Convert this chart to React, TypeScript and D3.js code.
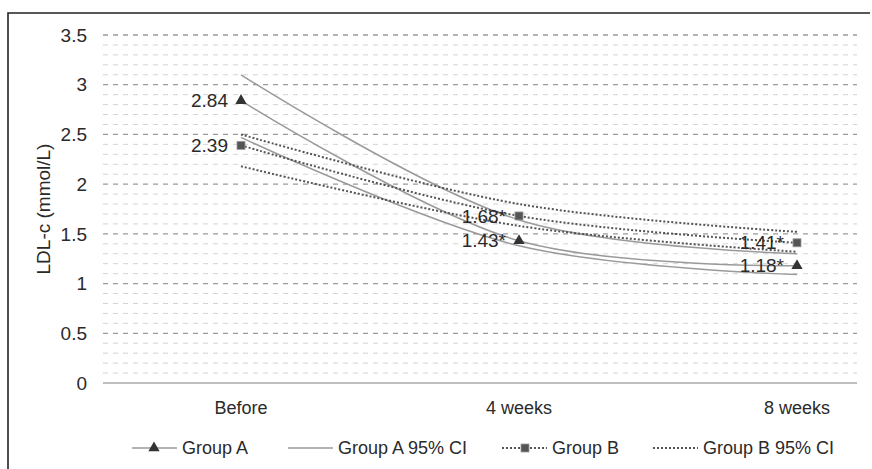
import React, { useEffect, useRef } from 'react';
import * as d3 from 'd3';

const categories = ['Before', '4 weeks', '8 weeks'];
const groupA = [2.84, 1.43, 1.18];
const groupAUpper = [3.1, 1.64, 1.3];
const groupALower = [2.47, 1.38, 1.09];
const groupB = [2.39, 1.68, 1.41];
const groupBUpper = [2.5, 1.8, 1.52];
const groupBLower = [2.18, 1.58, 1.32];
const groupALabels = ['2.84', '1.43*', '1.18*'];
const groupBLabels = ['2.39', '1.68*', '1.41*'];
const yTicks = [0, 0.5, 1, 1.5, 2, 2.5, 3, 3.5];
const legendItems = ['Group A', 'Group A 95% CI', 'Group B', 'Group B 95% CI'];

const W = 872;
const H = 469;
const FONT = '"Liberation Sans", Arial, sans-serif';

const App = () => {
  const ref = useRef<SVGSVGElement>(null);

  useEffect(() => {
    const svg = d3.select(ref.current);
    svg.selectAll('*').remove();

    const x = d3.scalePoint<string>().domain(categories).range([241, 797]);
    const y = d3.scaleLinear().domain([0, 3.5]).range([383, 35]);
    const gridLeft = 103;
    const gridRight = 857;

    svg.append('rect').attr('width', W).attr('height', H).attr('fill', '#fff');
    // frame (left + top only visible)
    svg.append('path')
      .attr('d', `M8,${H + 5} L8,13 L${W - 2},13`)
      .attr('fill', 'none')
      .attr('stroke', '#222')
      .attr('stroke-width', 1.6);

    // minor grid every 0.1
    const minor = d3.range(1, 35).map((i) => i / 10).filter((v) => Math.round(v * 10) % 5 !== 0);
    svg.selectAll('.minor')
      .data(minor)
      .join('line')
      .attr('x1', gridLeft).attr('x2', gridRight)
      .attr('y1', (d) => y(d)).attr('y2', (d) => y(d))
      .attr('stroke', '#d4d4d4')
      .attr('stroke-width', 1)
      .attr('stroke-dasharray', '5,5');

    svg.selectAll('.major')
      .data(yTicks.filter((d) => d > 0))
      .join('line')
      .attr('x1', gridLeft).attr('x2', gridRight)
      .attr('y1', (d) => y(d)).attr('y2', (d) => y(d))
      .attr('stroke', '#9a9a9a')
      .attr('stroke-width', 1.3)
      .attr('stroke-dasharray', '5,5');

    svg.append('line')
      .attr('x1', gridLeft).attr('x2', gridRight)
      .attr('y1', y(0)).attr('y2', y(0))
      .attr('stroke', '#a8a8a8')
      .attr('stroke-width', 1.6);

    // y tick labels
    svg.selectAll('.ytick')
      .data(yTicks)
      .join('text')
      .attr('x', 87)
      .attr('y', (d) => y(d))
      .attr('dy', '0.35em')
      .attr('text-anchor', 'end')
      .attr('font-family', FONT)
      .attr('font-size', 19)
      .attr('fill', '#2a2a2a')
      .text((d) => String(d));

    svg.append('text')
      .attr('transform', `translate(50,209) rotate(-90)`)
      .attr('text-anchor', 'middle')
      .attr('font-family', FONT)
      .attr('font-size', 19)
      .attr('fill', '#2a2a2a')
      .text('LDL-c (mmol/L)');

    // category labels
    svg.selectAll('.xtick')
      .data(categories)
      .join('text')
      .attr('x', (d) => x(d)!)
      .attr('y', 408)
      .attr('dy', '0.35em')
      .attr('text-anchor', 'middle')
      .attr('font-family', FONT)
      .attr('font-size', 18)
      .attr('fill', '#2a2a2a')
      .text((d) => d);

    const line = d3.line<number>()
      .x((_, i) => x(categories[i])!)
      .y((d) => y(d))
      .curve(d3.curveCatmullRom.alpha(0.5));

    const solid = { stroke: '#9a9a9a', width: 1.5, dash: null as string | null };
    const dotted = { stroke: '#555', width: 2, dash: '2,2' };

    const series = [
      { data: groupAUpper, s: solid },
      { data: groupALower, s: solid },
      { data: groupA, s: solid },
      { data: groupBUpper, s: dotted },
      { data: groupBLower, s: dotted },
      { data: groupB, s: dotted },
    ];
    series.forEach(({ data, s }) => {
      svg.append('path')
        .attr('d', line(data))
        .attr('fill', 'none')
        .attr('stroke', s.stroke)
        .attr('stroke-width', s.width)
        .attr('stroke-dasharray', s.dash);
    });

    const tri = d3.symbol().type(d3.symbolTriangle).size(55);
    svg.selectAll('.triA')
      .data(groupA)
      .join('path')
      .attr('d', tri)
      .attr('transform', (d, i) => `translate(${x(categories[i])},${y(d)})`)
      .attr('fill', '#333');

    svg.selectAll('.sqB')
      .data(groupB)
      .join('rect')
      .attr('x', (d, i) => x(categories[i])! - 4)
      .attr('y', (d) => y(d) - 4)
      .attr('width', 8)
      .attr('height', 8)
      .attr('fill', '#555')
      .attr('stroke', '#999')
      .attr('stroke-width', 0.8);

    const labelSets = [
      { data: groupA, labels: groupALabels },
      { data: groupB, labels: groupBLabels },
    ];
    labelSets.forEach(({ data, labels }) => {
      svg.append('g')
        .selectAll('text')
        .data(data)
        .join('text')
        .attr('x', (d, i) => x(categories[i])! - 13)
        .attr('y', (d) => y(d))
        .attr('dy', '0.35em')
        .attr('text-anchor', 'end')
        .attr('font-family', FONT)
        .attr('font-size', 19)
        .attr('fill', '#2a2a2a')
        .text((d, i) => labels[i]);
    });

    // legend
    const legendX = [132, 288, 502, 653];
    const ly = 448;
    legendItems.forEach((name, i) => {
      const lx = legendX[i];
      const s = i < 2 ? solid : dotted;
      svg.append('line')
        .attr('x1', lx).attr('x2', lx + 45)
        .attr('y1', ly).attr('y2', ly)
        .attr('stroke', s.stroke)
        .attr('stroke-width', s.width)
        .attr('stroke-dasharray', s.dash);
      if (i === 0) {
        svg.append('path')
          .attr('d', tri)
          .attr('transform', `translate(${lx + 22},${ly})`)
          .attr('fill', '#333');
      }
      if (i === 2) {
        svg.append('rect')
          .attr('x', lx + 19).attr('y', ly - 4)
          .attr('width', 8).attr('height', 8)
          .attr('fill', '#555')
          .attr('stroke', '#999')
          .attr('stroke-width', 0.8);
      }
      svg.append('text')
        .attr('x', lx + 50)
        .attr('y', ly)
        .attr('dy', '0.35em')
        .attr('font-family', FONT)
        .attr('font-size', 18)
        .attr('fill', '#2a2a2a')
        .text(name);
    });
  }, []);

  return (
    <svg
      ref={ref}
      width={W}
      height={H}
      style={{ position: 'absolute', left: 0, top: 0, display: 'block' }}
    />
  );
};

export default App;
